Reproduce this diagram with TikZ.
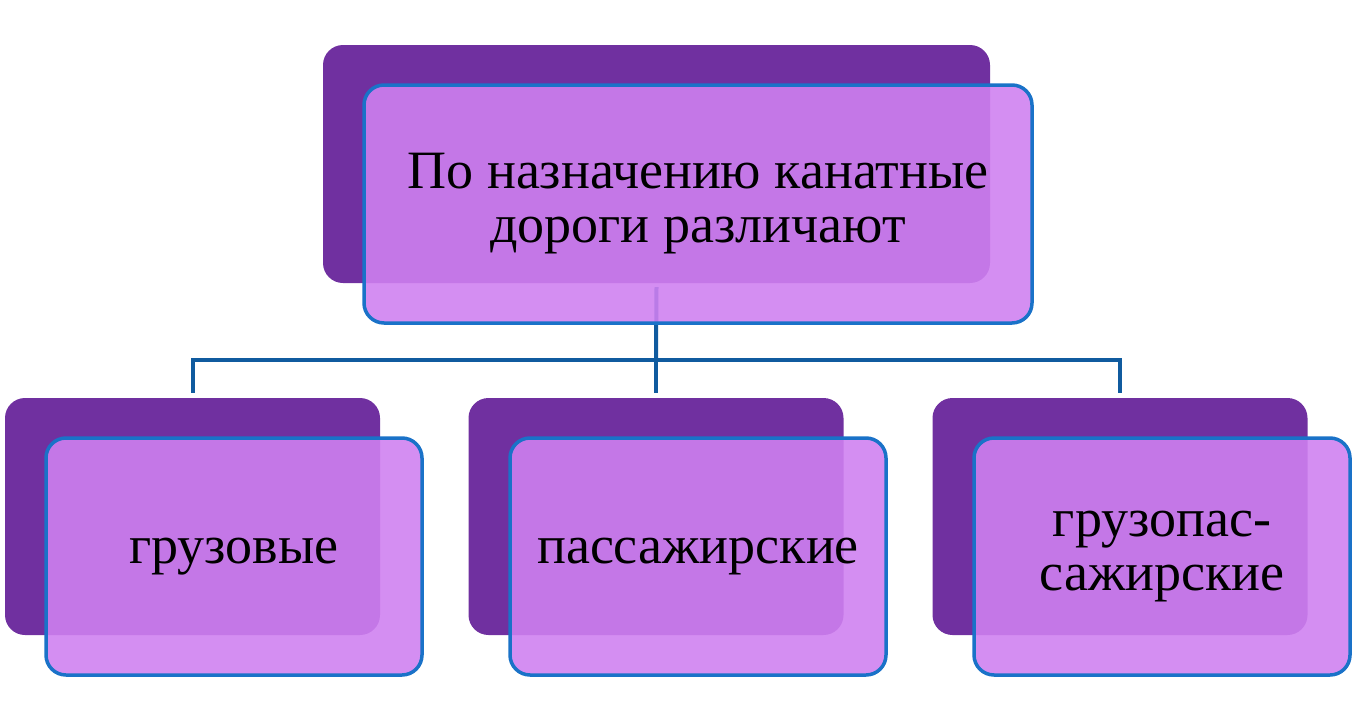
\documentclass[tikz,border=0pt]{standalone}
\usepackage{fontspec}
\setmainfont{Liberation Serif}
\definecolor{darkviolet}{HTML}{7030A0}
\definecolor{lightviolet}{HTML}{CF80F0}
\definecolor{boxblue}{HTML}{1A72C8}
\definecolor{linkblue}{HTML}{105B9F}
\begin{document}
\begin{tikzpicture}[x=1pt,y=-1pt]
        \tikzstyle{back}=[rectangle,rounded corners=20pt,fill=darkviolet,inner sep=0pt]
        \tikzstyle{front}=[rectangle,rounded corners=20pt,draw=boxblue,line width=3.5pt,fill=lightviolet,fill opacity=0.89,text opacity=1,inner sep=0pt,align=center,font=\fontsize{54}{54}\selectfont]
        \tikzstyle{link}=[draw=linkblue,line width=4pt]
        \useasboundingbox (0,0) rectangle (1354,720);
       \begin{scope}
         % back plates
         \node [back,minimum width=667pt,minimum height=238pt] (tb) at (656.5,164) {};
         \node [back,minimum width=375pt,minimum height=237pt] (b1) at (192.5,516.5) {};
         \node [back,minimum width=375pt,minimum height=237pt] (b2) at (656,516.5) {};
         \node [back,minimum width=375pt,minimum height=237pt] (b3) at (1120,516.5) {};
         % connectors
         \coordinate (hub) at (656,360);
         \path[link] ([yshift=-4pt]tb.south) -- (hub);
         \path[link,shorten >=5pt] (hub) -| (b1.north);
         \path[link,shorten >=5pt] (hub) -- (b2.north);
         \path[link,shorten >=5pt] (hub) -| (b3.north);
         % front plates
         \node [front,minimum width=668pt,minimum height=238pt] (tf) at (698,204) {По назначению канатные\\дороги различают};
         \node [front,minimum width=376pt,minimum height=237pt] (f1) at (234,556.5) {грузовые};
         \node [front,minimum width=376pt,minimum height=237pt] (f2) at (698,556.5) {пассажирские};
         \node [front,minimum width=376pt,minimum height=237pt] (f3) at (1162,556.5) {грузопас-\\сажирские};
        \end{scope}
      \end{tikzpicture}
\end{document}
